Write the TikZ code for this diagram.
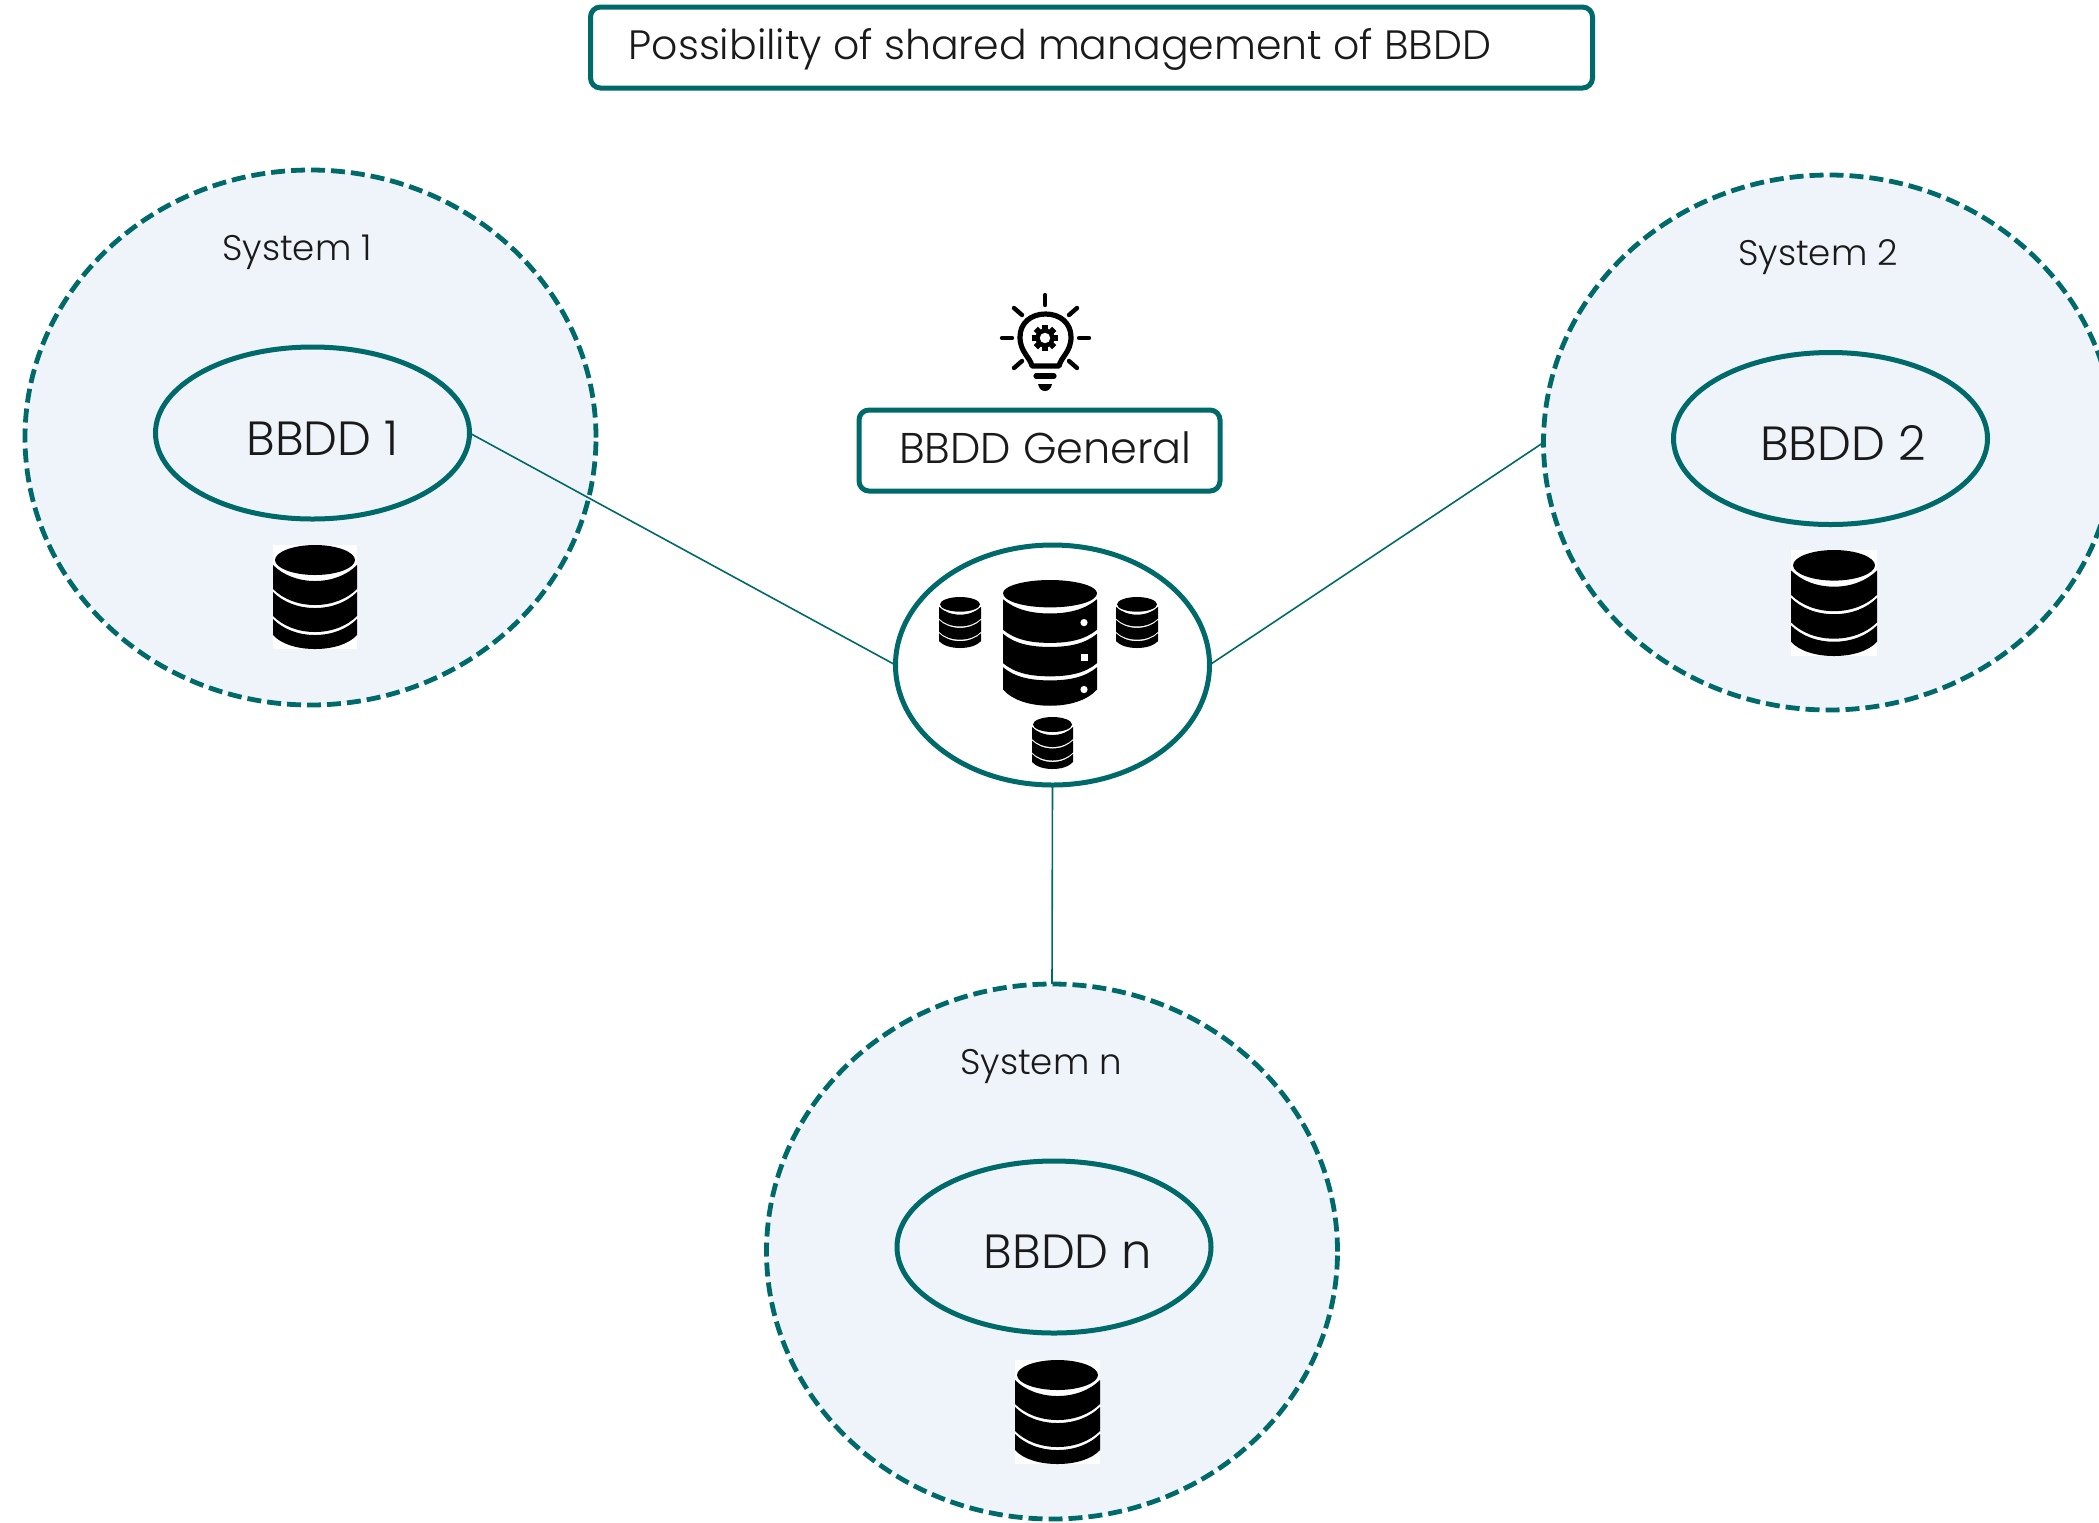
\documentclass[tikz,border=0pt]{standalone}
\usepackage{fontspec}
\setmainfont{Poppins}[UprightFont=* Light]
\usetikzlibrary{shapes.geometric}
\definecolor{teal1}{HTML}{006A6A}
\definecolor{sysfill}{HTML}{EFF3FA}
\definecolor{ink}{HTML}{1A1A1A}
\tikzset{
  sysbubble/.style={ellipse,draw=teal1,fill=sysfill,line width=2.4pt,dash pattern=on 7pt off 3pt,minimum width=285.5pt,minimum height=267.5pt,inner sep=0pt,outer sep=0pt},
  bdbubble/.style={ellipse,draw=teal1,fill=none,line width=2.5pt,minimum width=157pt,minimum height=86pt,inner sep=0pt,outer sep=0pt},
  hubbubble/.style={ellipse,draw=teal1,fill=white,line width=2.5pt,minimum width=157pt,minimum height=120pt,inner sep=0pt,outer sep=0pt},
  titlebox/.style={rectangle,rounded corners=5pt,draw=teal1,line width=2.5pt,fill=white,inner sep=0pt,outer sep=0pt},
  link/.style={draw=teal1,line width=0.8pt},
  syslabel/.style={text=ink,font=\fontsize{17.8}{21}\selectfont,inner sep=0pt},
  bdlabel/.style={text=ink,font=\fontsize{24}{28}\selectfont,inner sep=0pt},
  boxlabel/.style={text=ink,font=\fontsize{21.5}{25}\selectfont,inner sep=0pt},
  titlelabel/.style={text=ink,font=\fontsize{20.5}{24}\selectfont,inner sep=0pt},
  bulbline/.style={draw=black,line width=2.6pt,line cap=round,line join=round},
  bulbray/.style={draw=black,line width=2.2pt,line cap=round},
}
% plain stack: x, y of top-left, width, height, white backing (1) or not (0)
\newcommand{\dbstack}[5]{%
  \begin{scope}[shift={(#1,#2)},xscale=#3/84,yscale=#4/104]
    \ifnum#5=1 \fill[white] (0,0) rectangle (84,104);\fi
    \fill[black] (2,15) .. controls (2,7) and (20,0) .. (42,0) .. controls (64,0) and (82,7) .. (82,15) .. controls (82,23) and (64,30) .. (42,30) .. controls (20,30) and (2,23) .. (2,15) -- cycle;
    \fill[black] (0,20) .. controls (10,30) and (25,36) .. (42,36) .. controls (59,36) and (74,30) .. (84,20)
      -- (84,44) .. controls (74,54) and (59,60) .. (42,60) .. controls (25,60) and (10,54) .. (0,44) -- cycle;
    \fill[black] (0,47) .. controls (10,57) and (25,63) .. (42,63) .. controls (59,63) and (74,57) .. (84,47)
      -- (84,71) .. controls (74,81) and (59,87) .. (42,87) .. controls (25,87) and (10,81) .. (0,71) -- cycle;
    \fill[black] (0,74) .. controls (10,84) and (25,90) .. (42,90) .. controls (59,90) and (74,84) .. (84,74)
      -- (84,90) .. controls (76,99) and (60,104) .. (42,104) .. controls (24,104) and (8,99) .. (0,90) -- cycle;
  \end{scope}}
\begin{document}
\begin{tikzpicture}[x=0.5pt,y=-0.5pt]
\useasboundingbox (0,0) rectangle (2099,1522);
% system bubbles
\node[sysbubble] (sysone) at (310.5,437.5) {};
\node[sysbubble] (systwo) at (1829,442.5) {};
\node[sysbubble] (sysn) at (1052,1251.5) {};
% inner ellipses
\node[bdbubble] (bdone) at (312.5,433) {};
\node[bdbubble] (bdtwo) at (1830.5,438.5) {};
\node[bdbubble] (bdn) at (1054,1247) {};
% hub
\node[hubbubble] (hub) at (1052.5,665) {};
% connectors
\draw[link] (bdone.east) -- (hub.west);
\draw[link] (hub.east) -- (systwo.west);
\draw[link] (hub.south) -- (sysn.north);
% boxes
\node[titlebox,minimum width=501pt,minimum height=40.5pt] (titlebg) at (1091.5,47.5) {};
\node[titlelabel] (titletext) at (1060,49) {Possibility of shared management of BBDD};
\node[titlebox,minimum width=180.5pt,minimum height=40.5pt] (genbg) at (1039.5,450.5) {};
\node[boxlabel] (gentext) at (1045.5,448) {BBDD General};
% labels
\node[syslabel] (labone) at (297,252) {System 1};
\node[syslabel] (labtwo) at (1818,257) {System 2};
\node[syslabel] (labn) at (1041,1066) {System n};
\node[bdlabel] (bdonet) at (322.5,438) {BBDD 1};
\node[bdlabel] (bdtwot) at (1843,443) {BBDD 2};
\node[bdlabel] (bdnt) at (1068,1252) {BBDD n};
% database icons
\dbstack{273}{545}{84}{104}{1}
\dbstack{1791}{550}{86}{106}{1}
\dbstack{1015}{1360}{85}{104}{1}
\dbstack{939}{597}{42}{51}{0}
\dbstack{1116}{597}{42}{51}{0}
\dbstack{1032}{717}{41}{52}{0}
% large hub icon
\begin{scope}[shift={(1003,580)},yscale=1.014]
  \fill[black] (47,0) .. controls (73,0) and (94,6) .. (94,13) .. controls (94,21) and (73,27) .. (47,27) .. controls (21,27) and (0,21) .. (0,13) .. controls (0,6) and (21,0) .. (47,0) -- cycle;
  \fill[black] (0,19) .. controls (12,29) and (28,33) .. (47,33) .. controls (66,33) and (82,29) .. (94,19)
     -- (94,49) .. controls (82,59) and (66,62) .. (47,62) .. controls (28,62) and (12,59) .. (0,49) -- cycle;
  \fill[black] (0,53) .. controls (12,63) and (28,66) .. (47,66) .. controls (66,66) and (82,63) .. (94,53)
     -- (94,82) .. controls (82,92) and (66,95) .. (47,95) .. controls (28,95) and (12,92) .. (0,82) -- cycle;
  \fill[black] (0,86) .. controls (12,96) and (28,99) .. (47,99) .. controls (66,99) and (82,96) .. (94,86)
     -- (94,108) .. controls (84,119) and (66,124) .. (47,124) .. controls (28,124) and (10,119) .. (0,108) -- cycle;
  \fill[white] (81,42) circle[radius=3.6];
  \fill[white] (77.5,72.5) rectangle (84.5,79.5);
  \fill[white] (81,108) circle[radius=3.6];
\end{scope}
% light bulb
\draw[bulbline] (1032,366) .. controls (1030,357) and (1020,352) .. (1020,337) .. controls (1020,323) and (1031,314) .. (1045.5,314) .. controls (1060,314) and (1071,323) .. (1071,337) .. controls (1071,352) and (1061,357) .. (1059,366) -- cycle;
\draw[bulbray] (1045,295) -- (1045,305);
\draw[bulbray] (1014,308) -- (1022,315);
\draw[bulbray] (1077,308) -- (1069,315);
\draw[bulbray] (1002,338) -- (1012,338);
\draw[bulbray] (1079,338) -- (1089,338);
\draw[bulbray] (1022,361) -- (1014,368);
\draw[bulbray] (1069,361) -- (1077,368);
\draw[draw=black,line width=2.6pt,line cap=round] (1036,376) -- (1054,376);
\fill[black] (1038,384) -- (1052,384) .. controls (1051,389) and (1048,391) .. (1045,391) .. controls (1042,391) and (1039,389) .. (1038,384) -- cycle;
\fill[black] (1045,338) circle[radius=9.5];
\foreach \a in {0,45,...,315}{
  \fill[black,shift={(1045,338)},rotate=\a] (-3,-8) rectangle (3,-13);
}
\fill[white] (1045,338) circle[radius=5.2];
\end{tikzpicture}
\end{document}
